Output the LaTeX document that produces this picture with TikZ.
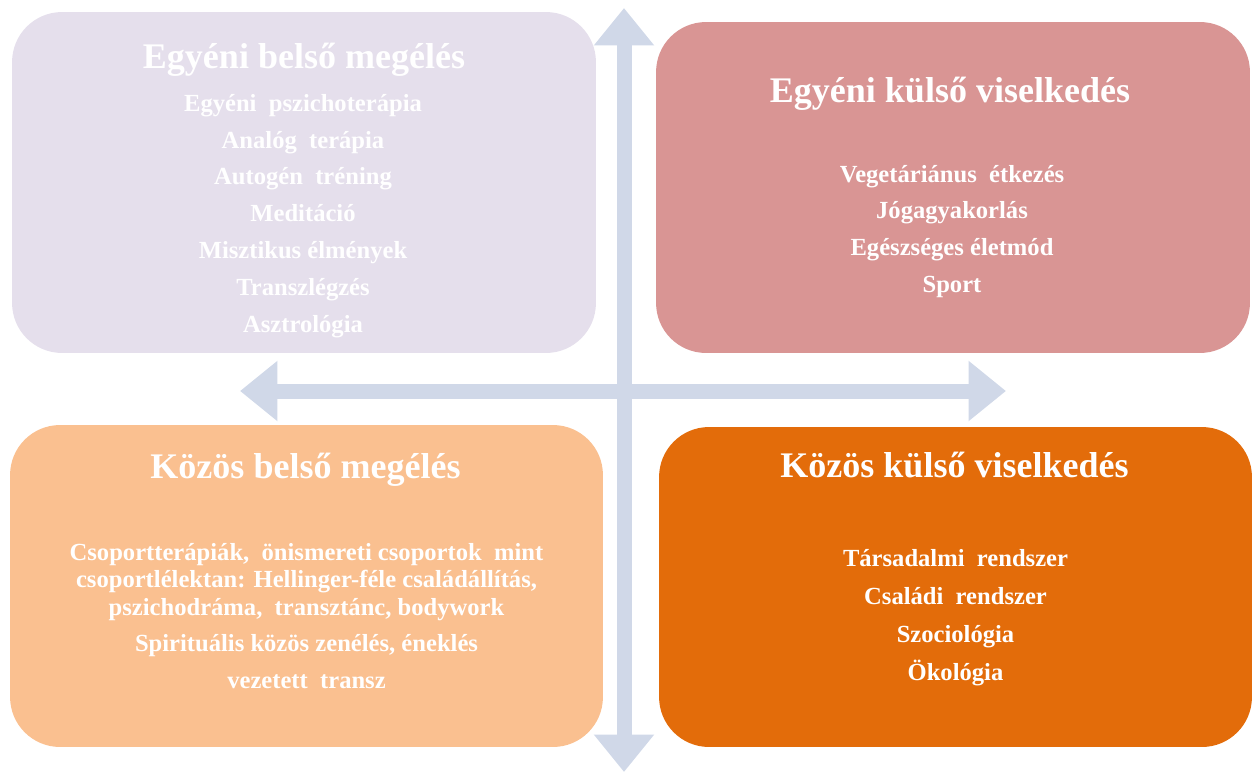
\documentclass[tikz,border=0pt]{standalone}
\usepackage{fontspec}
\setmainfont{Liberation Serif}
\usetikzlibrary{arrows.meta,positioning,calc}

\definecolor{lavbox}{HTML}{E5DFEC}
\definecolor{rosebox}{HTML}{D99594}
\definecolor{peachbox}{HTML}{FAC090}
\definecolor{orangebox}{HTML}{E36C0A}
\definecolor{axisblue}{HTML}{D0D8E8}

\begin{document}
\begin{tikzpicture}[
        x=0.02cm, y=-0.02cm,
        quad/.style={rectangle, rounded corners=1cm, inner sep=0pt},
        title/.style={text=white, font=\fontsize{20.5}{24}\selectfont\bfseries, inner sep=0pt},
        items/.style={text=white, font=\fontsize{14}{21}\selectfont\bfseries, align=center, inner sep=0pt},
        axis/.style={draw=axisblue, line width=0.3cm, {Triangle[length=0.75cm 0, width=1.16cm 0]}-{Triangle[length=0.75cm 0, width=1.16cm 0]}}
    ]
        \useasboundingbox (0,0) rectangle (1257,774);

        % Axes (behind the boxes)
        \coordinate (top) at (624,8);
        \coordinate (bottom) at (624,772);
        \coordinate (left) at (240,391);
        \coordinate (right) at (1006,391);
        \draw[axis] (bottom) -- (top);
        \draw[axis] (left) -- (right);

        % Quadrants
        \node[quad, fill=lavbox, minimum width=11.68cm, minimum height=6.82cm] (ibelso) at (304,182.5) {};
        \node[quad, fill=rosebox, minimum width=11.88cm, minimum height=6.62cm] (ikulso) at (953,187.5) {};
        \node[quad, fill=peachbox, minimum width=11.86cm, minimum height=6.44cm] (kbelso) at (306.5,586) {};
        \node[quad, fill=orangebox, minimum width=11.86cm, minimum height=6.40cm] (kkulso) at (955.5,587) {};

        % Titles
        \node[title] (ibelsoT) at ($(ibelso.north)+(0,48)$) {Egyéni belső megélés};
        \node[title] (ikulsoT) at ($(ikulso.north)+(-3,72)$) {Egyéni külső viselkedés};
        \node[title] (kbelsoT) at ($(kbelso.north)+(-1,45)$) {Közös belső megélés};
        \node[title] (kkulsoT) at ($(kkulso.north)+(-1,38)$) {Közös külső viselkedés};

        % Items
        \node[items] (ibelsoL) at ($(ibelso.center)+(-1,33.5)$) {Egyéni\ \ pszichoterápia\\Analóg\ \ terápia\\Autogén\ \ tréning\\Meditáció\\Misztikus élmények\\Transzlégzés\\Asztrológia};
        \node[items] (ikulsoL) at ($(ikulso.center)+(-1,44)$) {Vegetáriánus\ \ étkezés\\Jógagyakorlás\\Egészséges életmód\\Sport};
        \node[items, font=\fontsize{14}{15.5}\selectfont\bfseries] (kbelsoL) at ($(kbelso.center)+(0,30)$) {Csoportterápiák,\ \ önismereti csoportok\ \ mint\\csoportlélektan: Hellinger-féle családállítás,\\pszichodráma,\ \ transztánc, bodywork\\[5pt]Spirituális közös zenélés, éneklés\\[5.5pt]vezetett\ \ transz};
        \node[items, font=\fontsize{14}{21.5}\selectfont\bfseries] (kkulsoL) at ($(kkulso.center)+(0,30.5)$) {Társadalmi\ \ rendszer\\Családi\ \ rendszer\\Szociológia\\Ökológia};
    \end{tikzpicture}
\end{document}
